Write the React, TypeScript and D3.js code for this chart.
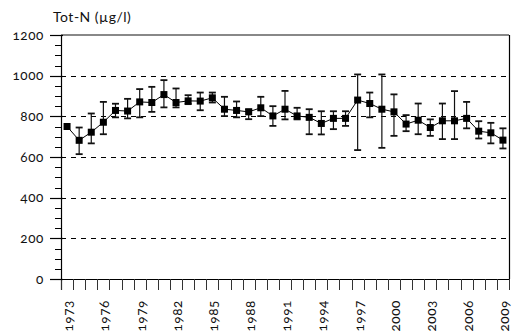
import React from "react";
import * as d3 from "d3";

const years = [1973,1974,1975,1976,1977,1978,1979,1980,1981,1982,1983,1984,1985,1986,1987,1988,1989,1990,1991,1992,1993,1994,1995,1996,1997,1998,1999,2000,2001,2002,2003,2004,2005,2006,2007,2008,2009];
const means = [750,682,722,771,829,826,871,868,907,868,876,875,891,835,829,822,842,802,835,802,795,765,790,790,880,863,835,822,762,781,745,778,778,790,727,719,683];
const highs = [null,745,814,871,862,886,934,945,978,937,904,917,917,896,873,834,896,850,925,842,835,825,825,825,1006,917,1006,908,806,863,785,863,924,871,776,768,741];
const lows = [null,614,667,712,795,790,795,822,844,844,860,830,868,801,795,786,801,753,785,785,712,711,737,753,634,795,645,704,727,712,704,688,688,741,691,667,642];
const yTicks = [0,200,400,600,800,1000,1200];
const gridVals = [200,400,600,800,1000];
const minorTicks = [50,100,150,250,300,350,450,500,550,650,700,750,850,900,950,1050,1100,1150];
const labelYears = [1973,1976,1979,1982,1985,1988,1991,1994,1997,2000,2003,2006,2009];
const title = "Tot-N (µg/l)";

const W = 512, H = 332;
const L = 61, R = 509, T = 35, B = 279;
const FONT = "Lato, 'Open Sans', sans-serif";
const numStyle: React.CSSProperties = { fontVariantNumeric: "oldstyle-nums", fontFeatureSettings: '"onum" 1' };

export default function App() {
  const x = d3.scaleBand<number>().domain(years).range([L, R]).padding(0);
  const y = d3.scaleLinear().domain([0, 1200]).range([B, T]);
  const cx = (yr: number) => (x(yr) as number) + x.bandwidth() / 2;
  const line = d3.line<number>().x((_, i) => cx(years[i])).y((v) => y(v));
  const edges = years.map((yr) => x(yr) as number).concat([R]);
  const cap = 3.5;
  const sq = 7;
  return (
    <svg width={W} height={H} style={{ position: "absolute", left: 0, top: 0, background: "#fff" }}>
      <rect x={0} y={0} width={W} height={H} fill="#fff" />
      <text x={53} y={22} fontFamily={FONT} fontSize={14} letterSpacing={0.5} fill="#111">{title}</text>
      {gridVals.map((v) => (
        <line key={"g" + v} x1={L} x2={R} y1={Math.round(y(v)) + 0.5} y2={Math.round(y(v)) + 0.5} stroke="#000" strokeWidth={1} strokeDasharray="5,5" />
      ))}
      <line x1={L} x2={R} y1={T} y2={T} stroke="#888" strokeWidth={2} />
      <line x1={R + 0.5} x2={R + 0.5} y1={T} y2={B} stroke="#000" strokeWidth={1.2} />
      <line x1={L} x2={R + 1} y1={B + 0.5} y2={B + 0.5} stroke="#000" strokeWidth={1.2} />
      <line x1={L + 0.5} x2={L + 0.5} y1={T} y2={B + 11} stroke="#000" strokeWidth={1.2} />
      {edges.map((e, i) => (
        <line key={"xt" + i} x1={Math.round(e) + 0.5} x2={Math.round(e) + 0.5} y1={B} y2={B + 11} stroke="#333" strokeWidth={1} />
      ))}
      {yTicks.map((v) => (
        <g key={"yt" + v}>
          <line x1={50} x2={63} y1={Math.round(y(v)) + 0.5} y2={Math.round(y(v)) + 0.5} stroke="#000" strokeWidth={1.2} />
          <text x={44} y={y(v)} dy="0.35em" textAnchor="end" fontFamily={FONT} fontSize={13.5} letterSpacing={0.6} fill="#111" style={numStyle}>{v}</text>
        </g>
      ))}
      {minorTicks.map((v) => (
        <line key={"mt" + v} x1={55} x2={L} y1={Math.round(y(v)) + 0.5} y2={Math.round(y(v)) + 0.5} stroke="#000" strokeWidth={1} />
      ))}
      {labelYears.map((yr) => (
        <text key={"xl" + yr} transform={`translate(${cx(yr) + 6},300) rotate(-90)`} textAnchor="end" fontFamily={FONT} fontSize={13.5} letterSpacing={0.6} fill="#111" style={numStyle}>{yr}</text>
      ))}
      <path d={line(means) || ""} fill="none" stroke="#000" strokeWidth={1} />
      {years.map((yr, i) => {
        const hi = highs[i], lo = lows[i];
        if (hi == null || lo == null) return null;
        const c = cx(yr);
        return (
          <g key={"e" + yr} stroke="#111">
            <line x1={c} x2={c} y1={y(hi)} y2={y(lo)} strokeWidth={1.2} />
            <line x1={c - cap} x2={c + cap} y1={y(hi)} y2={y(hi)} strokeWidth={1.8} />
            <line x1={c - cap} x2={c + cap} y1={y(lo)} y2={y(lo)} strokeWidth={1.8} />
          </g>
        );
      })}
      {years.map((yr, i) => (
        <rect key={"p" + yr} x={cx(yr) - sq / 2} y={y(means[i]) - sq / 2} width={sq} height={sq} fill="#000" />
      ))}
    </svg>
  );
}
